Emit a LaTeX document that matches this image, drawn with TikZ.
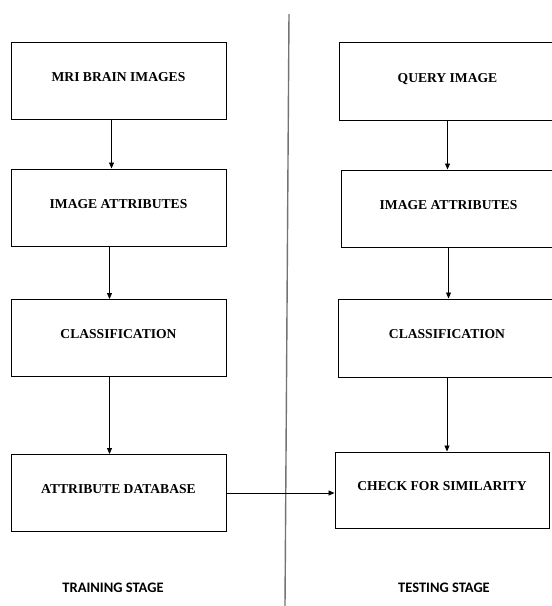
\documentclass[tikz,border=0pt]{standalone}
\usepackage{fontspec}
\setmainfont{Liberation Serif}
\newfontfamily\stagefont{Carlito}
\usetikzlibrary{arrows.meta}

\begin{document}
\begin{tikzpicture}[x=1pt,y=-1pt,>={Triangle[length=6pt,width=5pt]},
	box/.style={draw,line width=1pt,rectangle,inner sep=0pt,minimum height=77pt,text height=10pt,text depth=8.5pt,font=\fontsize{13.6}{16}\selectfont\bfseries},
	stage/.style={font=\stagefont\fontsize{14.5}{17}\selectfont\bfseries},
	flow/.style={line width=0.8pt}]
	\useasboundingbox (0,0) rectangle (552,606);
	% training stage
	\node	(mri) at (118.5,81) [box,minimum width=215pt] {MRI BRAIN IMAGES};
	\node	(attr) at (118.5,207.5) [box,minimum width=215pt] {IMAGE ATTRIBUTES};
	\node	(cls) at (118.5,338) [box,minimum width=215pt] {CLASSIFICATION};
	\node	(db) at (118.5,493) [box,minimum width=215pt] {ATTRIBUTE DATABASE};
	\node	(trainlbl) at (113,588) [stage] {TRAINING STAGE};
	% testing stage
	\node	(query) at (447.5,81.5) [box,minimum width=217pt,minimum height=78pt] {QUERY IMAGE};
	\node	(qattr) at (448.5,208.5) [box,minimum width=215pt] {IMAGE ATTRIBUTES};
	\node	(qcls) at (447,338) [box,minimum width=218pt,minimum height=78pt] {CLASSIFICATION};
	\node	(sim) at (442,490) [box,minimum width=214pt,minimum height=76pt] {CHECK FOR SIMILARITY};
	\node	(testlbl) at (444,588) [stage] {TESTING STAGE};
	% divider
	\coordinate (divtop) at (289,14);
	\coordinate (divbot) at (285,606);
	\draw[black!55,line width=1.4pt] (divtop) -- (divbot);
	\draw[flow]
	([xshift=-7pt]mri.south) edge[->] ([xshift=-7pt]attr.north)
	([xshift=-9pt]attr.south) edge[->] ([xshift=-9pt]cls.north)
	([xshift=-9pt]cls.south) edge[->] ([xshift=-9pt]db.north)
	(query.south) edge[->] (query.south |- qattr.north)
	(qattr.south) edge[->] (qattr.south |- qcls.north)
	(qcls.south) edge[->] (qcls.south |- sim.north)
	(db.east) edge[->] (db.east -| sim.west)
	;
\end{tikzpicture}
\end{document}
